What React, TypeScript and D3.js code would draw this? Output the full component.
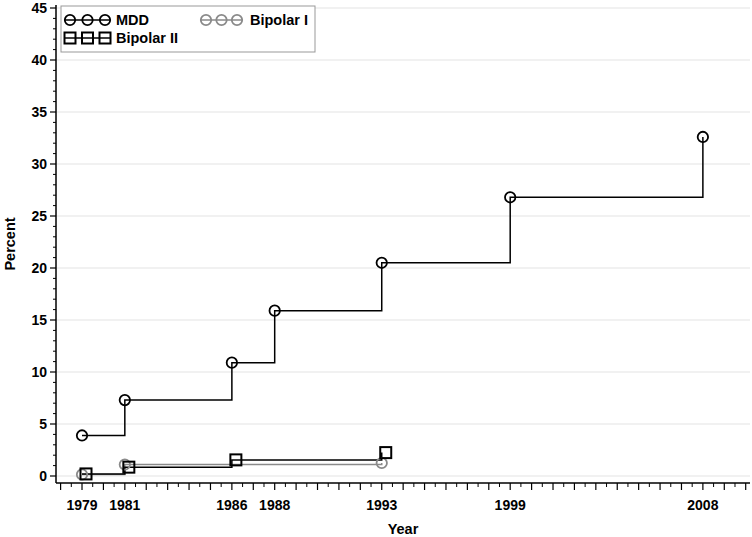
import React from "react";
import * as d3 from "d3";

// values
const mddYears = [1979, 1981, 1986, 1988, 1993, 1999, 2008];
const mddValues = [3.9, 7.3, 10.9, 15.9, 20.5, 26.8, 32.6];
const bp1Years = [1979, 1981, 1993];
const bp1Values = [0.15, 1.1, 1.25];
const bp2Years = [1979, 1981, 1986, 1993];
const bp2Values = [0.2, 0.85, 1.55, 2.25];
const xTickLabels = [1979, 1981, 1986, 1988, 1993, 1999, 2008];
const yTickLabels = [0, 5, 10, 15, 20, 25, 30, 35, 40, 45];

const W = 752;
const H = 537;
const FONT = "'Liberation Sans', Arial, sans-serif";
const GRAY = "#8a8a8a";

export default function App() {
  const x = d3.scaleLinear().domain([1978, 2010]).range([60.6, 745.7]);
  const y = d3.scaleLinear().domain([0, 45]).range([476, 8]);
  const axisX = 56;
  const axisY = 483;
  const right = 750;

  const line = d3
    .line<[number, number]>()
    .x((d) => x(d[0]))
    .y((d) => y(d[1]))
    .curve(d3.curveStepAfter);

  const mdd = mddYears.map((yr, i) => [yr, mddValues[i]] as [number, number]);
  const bp1 = bp1Years.map((yr, i) => [yr, bp1Values[i]] as [number, number]);
  const bp2 = bp2Years.map((yr, i) => [yr, bp2Values[i]] as [number, number]);

  const majorX = d3.range(1978, 2011, 1);
  const minorX = d3.range(1978.5, 2010, 1);
  const minorY = d3.range(0, 46, 1).filter((v) => v % 5 !== 0);

  const circle = (cx: number, cy: number, color: string, key: any) => (
    <circle key={key} cx={cx} cy={cy} r={5.2} fill="none" stroke={color} strokeWidth={1.8} />
  );
  const square = (cx: number, cy: number, key: any) => (
    <rect key={key} x={cx - 5.5} y={cy - 5.5} width={11} height={11} fill="none" stroke="#000" strokeWidth={2} />
  );

  const sym = (x0: number, x1: number, cy: number, kind: string, color: string) => {
    const cs = [x0 + 5, (x0 + x1) / 2, x1 - 5];
    return (
      <g>
        <line x1={x0} x2={x1} y1={cy} y2={cy} stroke={color} strokeWidth={1.5} />
        {cs.map((c, i) => (kind === "c" ? circle(c, cy, color, i) : square(c, cy, i)))}
      </g>
    );
  };

  return (
    <svg width={W} height={H} style={{ position: "absolute", left: 0, top: 0, background: "#fff" }}
      fontFamily={FONT} fontWeight="bold">
      {/* grid */}
      {yTickLabels.map((v) => (
        <line key={v} x1={axisX} x2={right} y1={y(v)} y2={y(v)} stroke="#e3e3e3" strokeWidth={1} />
      ))}

      {/* axes */}
      <line x1={axisX} x2={axisX} y1={5} y2={axisY} stroke="#000" strokeWidth={1.5} />
      <line x1={axisX} x2={right} y1={axisY} y2={axisY} stroke="#000" strokeWidth={1.5} />
      {yTickLabels.map((v) => (
        <g key={v}>
          <line x1={axisX - 6} x2={axisX} y1={y(v)} y2={y(v)} stroke="#000" strokeWidth={1.2} />
          <text x={47} y={y(v)} dy="0.35em" textAnchor="end" fontSize={14}>{v}</text>
        </g>
      ))}
      {minorY.map((v) => (
        <line key={v} x1={axisX - 3} x2={axisX} y1={y(v)} y2={y(v)} stroke="#000" strokeWidth={1} />
      ))}
      {majorX.map((v) => (
        <line key={v} x1={x(v)} x2={x(v)} y1={axisY} y2={axisY + 7} stroke="#000" strokeWidth={1.2} />
      ))}
      {minorX.map((v) => (
        <line key={v} x1={x(v)} x2={x(v)} y1={axisY} y2={axisY + 4} stroke="#000" strokeWidth={1} />
      ))}
      {xTickLabels.map((v) => (
        <text key={v} x={x(v)} y={510} textAnchor="middle" fontSize={14}>{v}</text>
      ))}
      <text x={(axisX + right) / 2} y={534} textAnchor="middle" fontSize={14.5}>Year</text>
      <text transform={`translate(15,${(5 + axisY) / 2}) rotate(-90)`} textAnchor="middle" fontSize={14.5}>Percent</text>

      {/* series */}
      <path d={line(bp1) || ""} fill="none" stroke={GRAY} strokeWidth={1.5} />
      <path d={line(bp2) || ""} fill="none" stroke="#000" strokeWidth={1.5} />
      <path d={line(mdd) || ""} fill="none" stroke="#000" strokeWidth={1.5} />
      {bp1.map((d, i) => circle(x(d[0]), y(d[1]), GRAY, i))}
      {bp2.map((d, i) => square(x(d[0]) + 4, y(d[1]), i))}
      {mdd.map((d, i) => circle(x(d[0]), y(d[1]), "#000", i))}

      {/* legend */}
      <rect x={61} y={6} width={254} height={46} fill="#fff" stroke="#999" strokeWidth={1} />
      {sym(65, 110, 20, "c", "#000")}
      <text x={116} y={20} dy="0.35em" fontSize={14.5}>MDD</text>
      {sym(201, 242, 20, "c", GRAY)}
      <text x={250} y={20} dy="0.35em" fontSize={14.5}>Bipolar I</text>
      {sym(65, 110, 38, "s", "#000")}
      <text x={116} y={38} dy="0.35em" fontSize={14.5}>Bipolar II</text>
    </svg>
  );
}
